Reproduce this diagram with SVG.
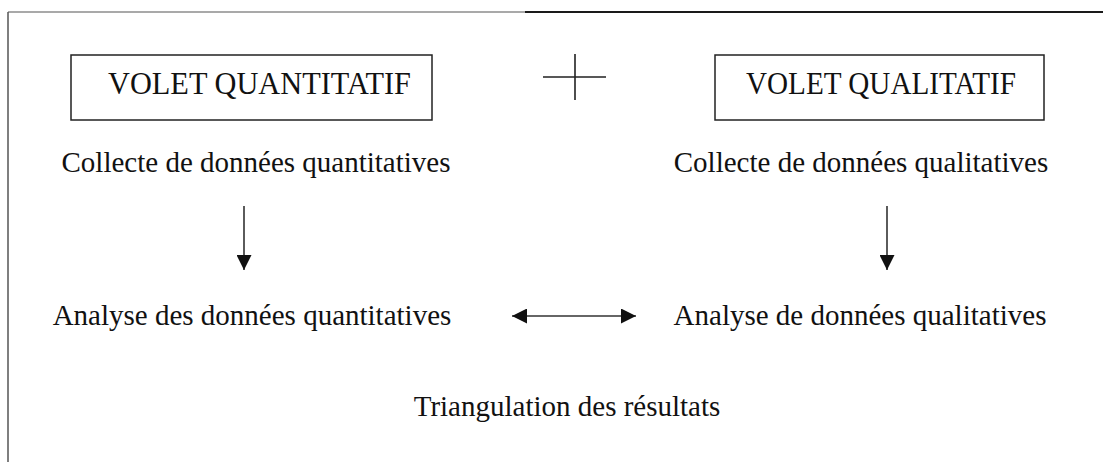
<svg xmlns="http://www.w3.org/2000/svg" width="1103" height="462" viewBox="0 0 1103 462">
  <style>
    .frame-l { fill: none; stroke: #555; stroke-width: 1.5; }
    .frame-t1 { fill: none; stroke: #555; stroke-width: 1.2; }
    .frame-t2 { fill: none; stroke: #1a1a1a; stroke-width: 2; }
    .box { fill: #fff; stroke: #222; stroke-width: 1.5; }
    .lbl { font-family: "Liberation Serif", "Times New Roman", serif; font-size: 29px; fill: #111; }
    .title { font-family: "Liberation Serif", "Times New Roman", serif; font-size: 31px; fill: #111; }
    .edge { fill: none; stroke: #333; stroke-width: 1.6; }
    .plus { fill: none; stroke: #222; stroke-width: 1.6; }
  </style>
  <defs>
    <marker id="head" viewBox="0 0 10 10" refX="10" refY="5" markerUnits="userSpaceOnUse" markerWidth="15" markerHeight="15" orient="auto-start-reverse">
      <path d="M0,0 L10,5 L0,10 Z" fill="#111"/>
    </marker>
  </defs>
  <rect width="1103" height="462" fill="#fff"/>

  <!-- open outer frame: top and left edges only -->
  <path class="frame-l" d="M8,462 L8,12"/>
  <path class="frame-t1" d="M8,12 L525,12"/>
  <path class="frame-t2" d="M525,12 L1103,12"/>

  <g id="volet-quantitatif">
    <rect class="box" x="71" y="55" width="361" height="65"/>
    <text class="title" x="108" y="94" textLength="303" lengthAdjust="spacingAndGlyphs">VOLET QUANTITATIF</text>
  </g>

  <g id="plus">
    <path class="plus" d="M575,54 L575,100 M543,77 L606,77"/>
  </g>

  <g id="volet-qualitatif">
    <rect class="box" x="715" y="55" width="329" height="65"/>
    <text class="title" x="746" y="94" textLength="270" lengthAdjust="spacingAndGlyphs">VOLET QUALITATIF</text>
  </g>

  <g id="collecte-quanti">
    <text class="lbl" x="256" y="172" text-anchor="middle">Collecte de données quantitatives</text>
  </g>
  <g id="collecte-quali">
    <text class="lbl" x="861" y="172" text-anchor="middle">Collecte de données qualitatives</text>
  </g>
  <g id="analyse-quanti">
    <text class="lbl" x="252" y="325" text-anchor="middle">Analyse des données quantitatives</text>
  </g>
  <g id="analyse-quali">
    <text class="lbl" x="860" y="325" text-anchor="middle">Analyse de données qualitatives</text>
  </g>
  <g id="triangulation">
    <text class="lbl" x="567" y="416" text-anchor="middle">Triangulation des résultats</text>
  </g>

  <g id="connectors">
    <line class="edge" x1="244" y1="206" x2="244" y2="270" marker-end="url(#head)"/>
    <line class="edge" x1="887" y1="206" x2="887" y2="270" marker-end="url(#head)"/>
    <line class="edge" x1="512" y1="316" x2="636" y2="316" marker-start="url(#head)" marker-end="url(#head)"/>
  </g>
</svg>
